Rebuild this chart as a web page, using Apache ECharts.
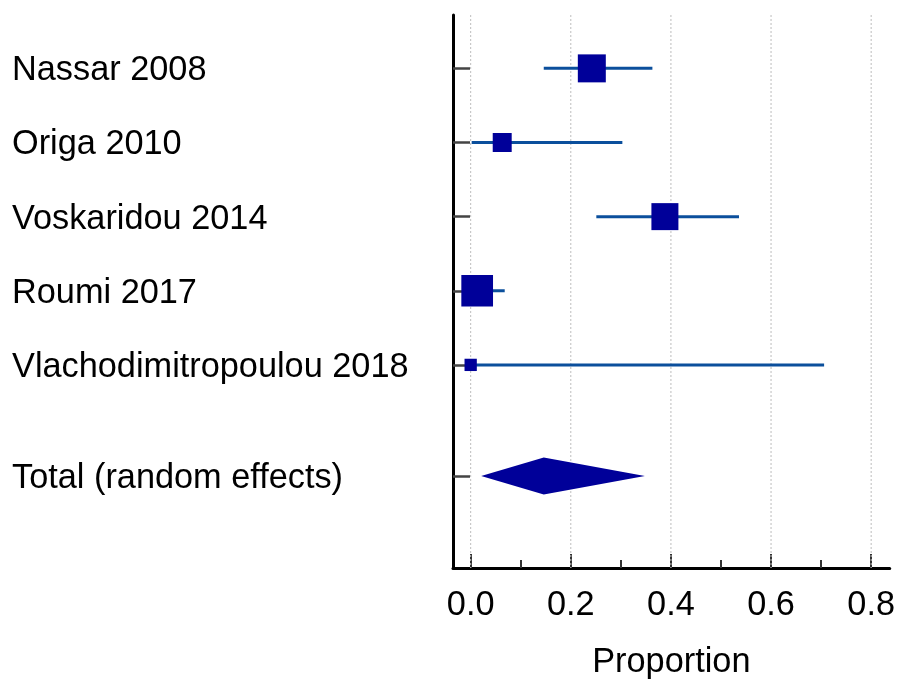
<!DOCTYPE html>
<html>
<head>
<meta charset="utf-8">
<script src="https://cdn.jsdelivr.net/npm/echarts@6/dist/echarts.min.js"></script>
<style>
html,body{margin:0;padding:0;background:#fff;}
#chart{width:898px;height:685px;}
</style>
</head>
<body>
<div id="chart"></div>
<script>
// ---- data ----
const studyNames = ['Nassar 2008', 'Origa 2010', 'Voskaridou 2014', 'Roumi 2017', 'Vlachodimitropoulou 2018'];
const studyRows = [1, 2, 3, 4, 5];
const estimates = [0.242, 0.063, 0.388, 0.013, 0.0];
const lowerCI = [0.146, 0.002, 0.251, 0.0, 0.0];
const upperCI = [0.363, 0.303, 0.536, 0.068, 0.706];
const weights = [25.9, 11.9, 24.1, 33.2, 5.0];

const totalName = 'Total (random effects)';
const totalRow = 6.5;
const totalEstimate = 0.146;
const totalLower = 0.021;
const totalUpper = 0.348;

const xMajorTicks = [0, 0.2, 0.4, 0.6, 0.8];
const xMinorTicks = [0.1, 0.3, 0.5, 0.7];
const xAxisName = 'Proportion';

// ---- build ----
const rowNames = studyNames.concat([totalName]);
const rowPositions = studyRows.concat([totalRow]);
const studyData = studyNames.map((n, i) => [studyRows[i], estimates[i], lowerCI[i], upperCI[i], weights[i]]);
const totalData = [[totalRow, totalEstimate, totalLower, totalUpper]];

const FONT = 'Arial, "Liberation Sans", sans-serif';
const FS = 34.3;
const chart = echarts.init(document.getElementById('chart'), null, {renderer: 'canvas'});

const option = {
  animation: false,
  backgroundColor: '#ffffff',
  grid: {left: 453, right: 8, top: 15, bottom: 114, containLabel: false},
  xAxis: [{
    type: 'value',
    min: -0.0353,
    max: 0.837,
    position: 'bottom',
    name: xAxisName,
    nameLocation: 'middle',
    nameGap: 78,
    nameTextStyle: {fontSize: FS, color: '#000', fontFamily: FONT},
    axisLine: {show: true, onZero: false, lineStyle: {color: '#000', width: 3}},
    axisTick: {show: true, inside: true, length: 14, customValues: xMajorTicks, lineStyle: {color: '#333', width: 2}},
    axisLabel: {show: true, customValues: xMajorTicks, margin: 21, fontSize: FS, color: '#000', fontFamily: FONT,
      formatter: v => v.toFixed(1)},
    splitLine: {show: false}
  }, {
    type: 'value',
    min: -0.0353,
    max: 0.837,
    position: 'bottom',
    axisLine: {show: false, onZero: false},
    axisTick: {show: true, inside: true, length: 8, customValues: xMinorTicks, lineStyle: {color: '#333', width: 2}},
    axisLabel: {show: false},
    splitLine: {show: false}
  }],
  yAxis: {
    type: 'value',
    inverse: true,
    min: 0.28,
    max: 7.74,
    axisLine: {show: true, onZero: false, lineStyle: {color: '#000', width: 3}},
    axisTick: {show: true, inside: true, length: 17, customValues: rowPositions, lineStyle: {color: '#444', width: 2.5}},
    axisLabel: {
      show: true, customValues: rowPositions, align: 'left', margin: 441,
      fontSize: FS, color: '#000', fontFamily: FONT,
      rich: {r: {fontSize: FS, color: '#000', fontFamily: FONT, padding: [5, 0, 0, 0]}},
      formatter: v => {
        const i = rowPositions.findIndex(p => Math.abs(p - v) < 1e-6);
        return i >= 0 ? '{r|' + rowNames[i] + '}' : '';
      }
    },
    splitLine: {show: false}
  },
  series: [
    {
      type: 'custom',
      name: 'grid',
      z: 1,
      silent: true,
      data: xMajorTicks.map(v => [v]),
      encode: {x: 0},
      renderItem: function (params, api) {
        const cs = params.coordSys;
        const x = api.coord([api.value(0), 1])[0];
        return {
          type: 'line',
          shape: {x1: x, y1: cs.y, x2: x, y2: cs.y + cs.height},
          style: {stroke: '#bdbdbd', lineWidth: 1, lineDash: [2, 2]}
        };
      }
    },
    {
      type: 'custom',
      name: 'studies',
      z: 3,
      clip: false,
      data: studyData,
      encode: {x: [1, 2, 3], y: 0},
      renderItem: function (params, api) {
        const y = api.value(0), est = api.value(1), lo = api.value(2), hi = api.value(3), w = api.value(4);
        const pLo = api.coord([lo, y]);
        const pHi = api.coord([hi, y]);
        const pE = api.coord([est, y]);
        const s = Math.sqrt(w) * 5.5;
        return {
          type: 'group',
          children: [
            {type: 'line', shape: {x1: pLo[0], y1: pLo[1], x2: pHi[0], y2: pHi[1]},
              style: {stroke: '#0b4f9c', lineWidth: 3}},
            {type: 'rect', shape: {x: pE[0] - s / 2, y: pE[1] - s / 2, width: s, height: s},
              style: {fill: '#000099'}}
          ]
        };
      }
    },
    {
      type: 'custom',
      name: 'total',
      z: 3,
      clip: false,
      data: totalData,
      encode: {x: [1, 2, 3], y: 0},
      renderItem: function (params, api) {
        const y = api.value(0), est = api.value(1), lo = api.value(2), hi = api.value(3);
        const pLo = api.coord([lo, y]);
        const pHi = api.coord([hi, y]);
        const pE = api.coord([est, y]);
        const h = 18.5;
        return {
          type: 'polygon',
          shape: {points: [[pLo[0], pLo[1]], [pE[0], pE[1] - h], [pHi[0], pHi[1]], [pE[0], pE[1] + h]]},
          style: {fill: '#000099'}
        };
      }
    }
  ]
};
chart.setOption(option);
</script>
</body>
</html>
